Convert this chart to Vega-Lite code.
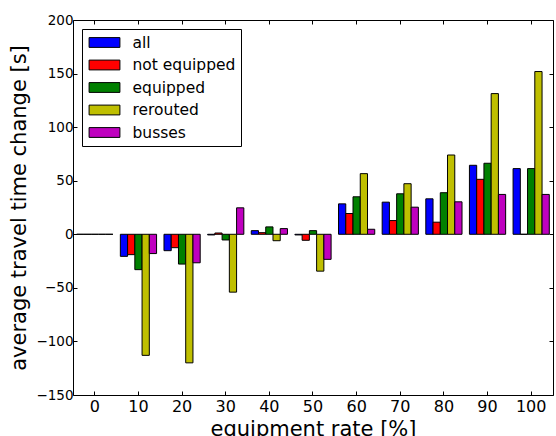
{
  "$schema": "https://vega.github.io/schema/vega-lite/v6.json",
  "autosize": "none",
  "width": 480,
  "height": 375,
  "padding": {"left": 73, "top": 20, "right": 3, "bottom": 41},
  "background": "white",
  "config": {
    "font": "DejaVu Sans",
    "view": {"stroke": "black", "strokeWidth": 1}
  },
  "data": {"values": [
    {"rate": 0, "series": "all", "value": 0},
    {"rate": 0, "series": "not equipped", "value": 0},
    {"rate": 0, "series": "equipped", "value": 0},
    {"rate": 0, "series": "rerouted", "value": 0},
    {"rate": 0, "series": "busses", "value": 0},
    {"rate": 10, "series": "all", "value": -20.6},
    {"rate": 10, "series": "not equipped", "value": -19},
    {"rate": 10, "series": "equipped", "value": -33},
    {"rate": 10, "series": "rerouted", "value": -113},
    {"rate": 10, "series": "busses", "value": -18},
    {"rate": 20, "series": "all", "value": -15.3},
    {"rate": 20, "series": "not equipped", "value": -12.5},
    {"rate": 20, "series": "equipped", "value": -27.8},
    {"rate": 20, "series": "rerouted", "value": -120},
    {"rate": 20, "series": "busses", "value": -26.6},
    {"rate": 30, "series": "all", "value": -0.6},
    {"rate": 30, "series": "not equipped", "value": 1.2},
    {"rate": 30, "series": "equipped", "value": -5.3},
    {"rate": 30, "series": "rerouted", "value": -54},
    {"rate": 30, "series": "busses", "value": 24.7},
    {"rate": 40, "series": "all", "value": 3.4},
    {"rate": 40, "series": "not equipped", "value": 1.5},
    {"rate": 40, "series": "equipped", "value": 6.9},
    {"rate": 40, "series": "rerouted", "value": -6},
    {"rate": 40, "series": "busses", "value": 5.3},
    {"rate": 50, "series": "all", "value": -0.6},
    {"rate": 50, "series": "not equipped", "value": -5.6},
    {"rate": 50, "series": "equipped", "value": 3.4},
    {"rate": 50, "series": "rerouted", "value": -34.4},
    {"rate": 50, "series": "busses", "value": -23.4},
    {"rate": 60, "series": "all", "value": 28.4},
    {"rate": 60, "series": "not equipped", "value": 19.4},
    {"rate": 60, "series": "equipped", "value": 35},
    {"rate": 60, "series": "rerouted", "value": 56.6},
    {"rate": 60, "series": "busses", "value": 4.7},
    {"rate": 70, "series": "all", "value": 30},
    {"rate": 70, "series": "not equipped", "value": 12.8},
    {"rate": 70, "series": "equipped", "value": 37.8},
    {"rate": 70, "series": "rerouted", "value": 47.2},
    {"rate": 70, "series": "busses", "value": 25.3},
    {"rate": 80, "series": "all", "value": 33.1},
    {"rate": 80, "series": "not equipped", "value": 11.3},
    {"rate": 80, "series": "equipped", "value": 38.8},
    {"rate": 80, "series": "rerouted", "value": 74},
    {"rate": 80, "series": "busses", "value": 30.3},
    {"rate": 90, "series": "all", "value": 64.4},
    {"rate": 90, "series": "not equipped", "value": 51.3},
    {"rate": 90, "series": "equipped", "value": 66.3},
    {"rate": 90, "series": "rerouted", "value": 131.3},
    {"rate": 90, "series": "busses", "value": 37.2},
    {"rate": 100, "series": "all", "value": 61.3},
    {"rate": 100, "series": "not equipped", "value": 0},
    {"rate": 100, "series": "equipped", "value": 61.3},
    {"rate": 100, "series": "rerouted", "value": 151.9},
    {"rate": 100, "series": "busses", "value": 37.2}
  ]},
  "resolve": {"axis": {"x": "independent", "y": "independent"}},
  "layer": [
    {
      "mark": {"type": "bar", "stroke": "black", "strokeWidth": 1},
      "encoding": {
        "x": {
          "field": "rate", "type": "ordinal",
          "scale": {"paddingInner": 0.17, "paddingOuter": 0.085},
          "axis": {
            "title": "equipment rate [%]", "titleFontSize": 21, "titleFontWeight": "normal", "titleColor": "black", "titlePadding": 4,
            "labelAngle": 0, "labelFontSize": 16, "labelColor": "black", "labelPadding": 7,
            "tickSize": -4, "tickColor": "black", "domain": false
          }
        },
        "xOffset": {"field": "series", "sort": ["all", "not equipped", "equipped", "rerouted", "busses"]},
        "y": {
          "field": "value", "type": "quantitative",
          "scale": {"domain": [-150, 200], "nice": false, "zero": false},
          "axis": {
            "title": "average travel time change [s]", "titleFontSize": 21, "titleFontWeight": "normal", "titleColor": "black", "titlePadding": 6,
            "values": [-150, -100, -50, 0, 50, 100, 150, 200],
            "labelFontSize": 13.5, "labelColor": "black", "labelPadding": 4,
            "tickSize": -4, "tickColor": "black", "domain": false, "grid": false
          }
        },
        "color": {
          "field": "series", "type": "nominal", "sort": ["all", "not equipped", "equipped", "rerouted", "busses"],
          "scale": {"domain": ["all", "not equipped", "equipped", "rerouted", "busses"], "range": ["#0000ff", "#ff0000", "#008000", "#bfbf00", "#bf00bf"]},
          "legend": {
            "title": null, "orient": "top-left", "offset": 9,
            "symbolType": "M-1.95,-0.62H1.95V0.62H-1.95Z", "symbolSize": 250, "symbolOffset": 9,
            "symbolStrokeColor": "black", "symbolStrokeWidth": 1, "symbolOpacity": 1,
            "labelFontSize": 15.5, "labelColor": "black", "labelOffset": 19.5,
            "strokeColor": "black", "fillColor": "white", "padding": 5, "rowPadding": 5.5
          }
        }
      }
    },
    {
      "mark": {"type": "bar", "opacity": 0},
      "encoding": {
        "x": {
          "field": "rate", "type": "ordinal",
          "axis": {"orient": "top", "title": null, "labels": false, "tickSize": -4, "tickColor": "black", "domain": false}
        },
        "xOffset": {"field": "series", "sort": ["all", "not equipped", "equipped", "rerouted", "busses"]},
        "y": {
          "field": "value", "type": "quantitative",
          "axis": {"orient": "right", "title": null, "labels": false, "values": [-150, -100, -50, 0, 50, 100, 150, 200], "tickSize": -4, "tickColor": "black", "domain": false, "grid": false}
        }
      }
    }
  ]
}
